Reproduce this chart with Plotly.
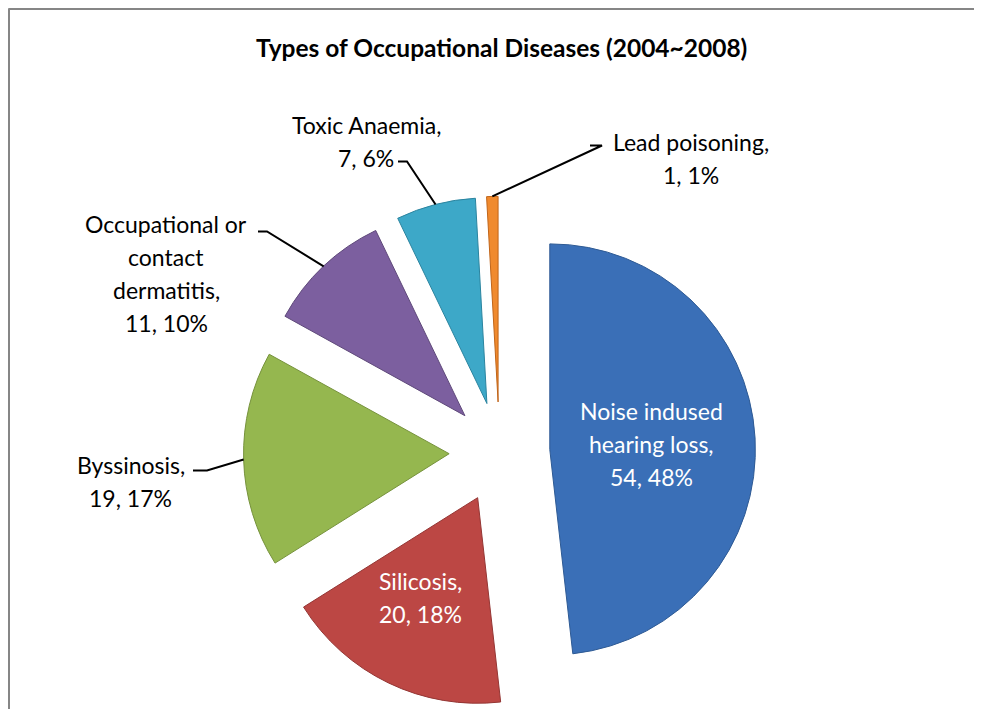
import math
import plotly.graph_objects as go

# ---------------- data ----------------
categories = ["Noise indused hearing loss", "Silicosis", "Byssinosis",
              "Occupational or contact dermatitis", "Toxic Anaemia", "Lead poisoning"]
values = [54, 20, 19, 11, 7, 1]
# how each category name is wrapped in its data label
name_lines = [["Noise indused", "hearing loss,"], ["Silicosis,"], ["Byssinosis,"],
              ["Occupational or", "contact", "dermatitis,"], ["Toxic Anaemia,"],
              ["Lead poisoning,"]]
title_text = "Types of Occupational Diseases (2004~2008)"

# ---------------- style / layout ----------------
colors = ["#3A6FB7", "#BC4744", "#95B74F", "#7C5F9F", "#3DA8C8", "#F08A2E"]
edge_colors = ["#2E5A94", "#943634", "#76923C", "#5F497A", "#2B849F", "#C0651A"]
W, H = 982, 709
OFF = 8                     # page offset of the figure (body margin)
CX, CY = 499.5, 452.3       # pie centre (page px)
R = 205.6                   # slice radius (px)
PULL = 0.245
FONT = "Lato, 'Open Sans', sans-serif"
LABEL_SIZE = 23
LINE_GAP = 33

# label block placement (centre x, first line y) in page px, and text colour
label_pos = [(651, 411, "white"), (420, 581, "white"), (131, 465, "black"),
             (166, 224, "black"), (366, 125, "black"), (691, 142, "black")]
# leader lines: (end x, elbow x, y) in page px ; None for inside labels
leaders = [None, None, (193, 207, 470.5), (258, 267, 231.5),
           (398, 407, 161.5), (590, 602, 145.5)]


def px(x):
    return (x - OFF) / W


def py(y):
    return 1 - (y - OFF) / H


half = R * (1 + PULL)
fig = go.Figure(go.Pie(
    labels=categories, values=values, sort=False, direction="clockwise",
    rotation=0, pull=[PULL] * len(values),
    marker=dict(colors=colors, line=dict(color=edge_colors, width=1)),
    textinfo="none", hoverinfo="label+value+percent", showlegend=False,
    domain=dict(x=[px(CX - half), px(CX + half)], y=[py(CY + half), py(CY - half)]),
))

total = sum(values)
annotations = []
shapes = []
cum = 0.0
for i, v in enumerate(values):
    mid = (cum + v / 2) / total
    cum += v
    pct = round(v / total * 100)
    lines = name_lines[i] + [f"{v}, {pct}%"]
    lx, ly, col = label_pos[i]
    for k, t in enumerate(lines):
        annotations.append(dict(
            x=px(lx), y=py(ly + k * LINE_GAP), xref="paper", yref="paper",
            text=t, showarrow=False, xanchor="center", yanchor="middle",
            font=dict(family=FONT, size=LABEL_SIZE, color=col)))
    if leaders[i] is not None:
        ex, bx, yy = leaders[i]
        th = 2 * math.pi * mid
        ax = CX + R * (1 + PULL) * math.sin(th)
        ay = CY - R * (1 + PULL) * math.cos(th)
        path = (f"M {px(ex)},{py(yy)} L {px(bx)},{py(yy)} L {px(ax)},{py(ay)}")
        shapes.append(dict(type="path", path=path, xref="paper", yref="paper",
                           line=dict(color="black", width=2)))

annotations.append(dict(
    x=px(501), y=py(47), xref="paper", yref="paper", text=f"<b>{title_text}</b>",
    showarrow=False, xanchor="center", yanchor="middle",
    font=dict(family=FONT, size=24.5, color="black")))

# chart border (top and left edges visible in the crop)
shapes.append(dict(type="line", xref="paper", yref="paper", x0=px(8.5), x1=px(990),
                   y0=py(9), y1=py(9), line=dict(color="#868686", width=2)))
shapes.append(dict(type="line", xref="paper", yref="paper", x0=px(9), x1=px(9),
                   y0=py(8.5), y1=py(720), line=dict(color="#868686", width=2)))

fig.update_layout(
    width=W, height=H, margin=dict(l=0, r=0, t=0, b=0),
    paper_bgcolor="white", plot_bgcolor="white",
    annotations=annotations, shapes=shapes,
)
fig.write_html("out.html", config={"displayModeBar": False})
